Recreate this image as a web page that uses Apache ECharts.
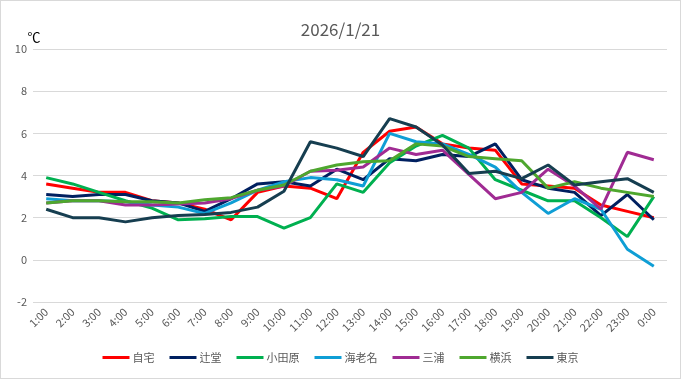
<!DOCTYPE html>
<html>
<head>
<meta charset="utf-8">
<script src="https://cdn.jsdelivr.net/npm/echarts@6/dist/echarts.min.js"></script>
<style>
html,body{margin:0;padding:0;background:#fff;}
#chart{width:679px;height:377px;border:1px solid #D9D9D9;}
</style>
</head>
<body>
<div id="chart"></div>
<script>
const title = '2026/1/21';
const unit = '℃';
const hours = ['1:00','2:00','3:00','4:00','5:00','6:00','7:00','8:00','9:00','10:00','11:00','12:00','13:00','14:00','15:00','16:00','17:00','18:00','19:00','20:00','21:00','22:00','23:00','0:00'];
const yTicks = {min: -2, max: 10, interval: 2};

const jitaku   = [3.6, 3.4, 3.2, 3.2, 2.8, 2.7, 2.4, 1.9, 3.2, 3.5, 3.4, 2.9, 5.1, 6.1, 6.3, 5.5, 5.3, 5.2, 3.6, 3.5, 3.4, 2.6, 2.3, 2.0];
const tsujido  = [3.1, 3.0, 3.1, 3.1, 2.8, 2.7, 2.3, 2.9, 3.6, 3.7, 3.5, 4.3, 3.8, 4.8, 4.7, 5.0, 4.9, 5.5, 3.8, 3.4, 3.2, 2.1, 3.1, 1.9];
const odawara  = [3.9, 3.6, 3.2, 2.8, 2.45, 1.9, 1.95, 2.05, 2.05, 1.5, 2.0, 3.6, 3.2, 4.6, 5.4, 5.9, 5.3, 3.8, 3.3, 2.8, 2.8, 2.0, 1.1, 3.0];
const ebina    = [2.9, 2.8, 2.8, 2.75, 2.6, 2.5, 2.2, 2.7, 3.3, 3.7, 3.9, 3.8, 3.5, 6.0, 5.6, 5.5, 5.0, 4.4, 3.2, 2.2, 2.9, 2.4, 0.5, -0.3];
const miura    = [2.7, 2.8, 2.8, 2.6, 2.6, 2.65, 2.7, 2.9, 3.3, 3.5, 4.2, 4.25, 4.4, 5.3, 5.0, 5.2, 4.05, 2.9, 3.2, 4.3, 3.5, 2.4, 5.1, 4.75];
const yokohama = [2.7, 2.8, 2.8, 2.75, 2.75, 2.7, 2.85, 2.95, 3.3, 3.55, 4.2, 4.5, 4.65, 4.7, 5.5, 5.4, 4.9, 4.8, 4.7, 3.4, 3.7, 3.4, 3.2, 3.0];
const tokyo    = [2.4, 2.0, 2.0, 1.8, 2.0, 2.1, 2.15, 2.25, 2.5, 3.25, 5.6, 5.3, 4.9, 6.7, 6.3, 5.45, 4.1, 4.2, 3.85, 4.5, 3.55, 3.7, 3.85, 3.2];

const seriesNames = ['自宅','辻堂','小田原','海老名','三浦','横浜','東京'];
const seriesData = [jitaku, tsujido, odawara, ebina, miura, yokohama, tokyo];
const colors = ['#FF0000','#002060','#00B050','#0F9ED5','#A02B93','#4EA72E','#163E50'];

const chart = echarts.init(document.getElementById('chart'), null, {renderer:'canvas'});
const font = '"Noto Sans CJK JP", "Noto Sans", sans-serif';
chart.setOption({
  animation: false,
  color: colors,
  title: {
    text: title, left: 'center', top: 15,
    textStyle: {fontSize: 17, fontWeight: 'normal', color: '#595959', fontFamily: font}
  },
  grid: {left: 32, right: 13, top: 48, bottom: 76, containLabel: false},
  legend: {
    bottom: 10, left: 'center',
    itemWidth: 27, itemHeight: 3, itemGap: 15,
    icon: 'rect',
    textStyle: {fontSize: 11, color: '#595959', fontFamily: font, padding: [0,0,0,-2]},
    data: seriesNames
  },
  xAxis: {
    type: 'category', data: hours, boundaryGap: true,
    axisLine: {show: false}, axisTick: {show: false},
    axisLabel: {rotate: 45, fontSize: 11, color: '#595959', margin: 8, fontFamily: font, interval: 0}
  },
  yAxis: {
    type: 'value', min: yTicks.min, max: yTicks.max, interval: yTicks.interval,
    name: unit, nameLocation: 'end', nameGap: 4,
    nameTextStyle: {color: '#000', fontSize: 13, fontFamily: font, align: 'center', padding: [0,0,0,2]},
    axisLine: {show: false}, axisTick: {show: false},
    axisLabel: {fontSize: 11, color: '#595959', margin: 6, fontFamily: font},
    splitLine: {lineStyle: {color: '#D9D9D9', width: 1}}
  },
  series: seriesNames.map((n, i) => ({
    name: n, type: 'line', data: seriesData[i],
    showSymbol: false, symbol: 'none',
    lineStyle: {width: 3, color: colors[i]},
    itemStyle: {color: colors[i]}
  }))
});
</script>
</body>
</html>
